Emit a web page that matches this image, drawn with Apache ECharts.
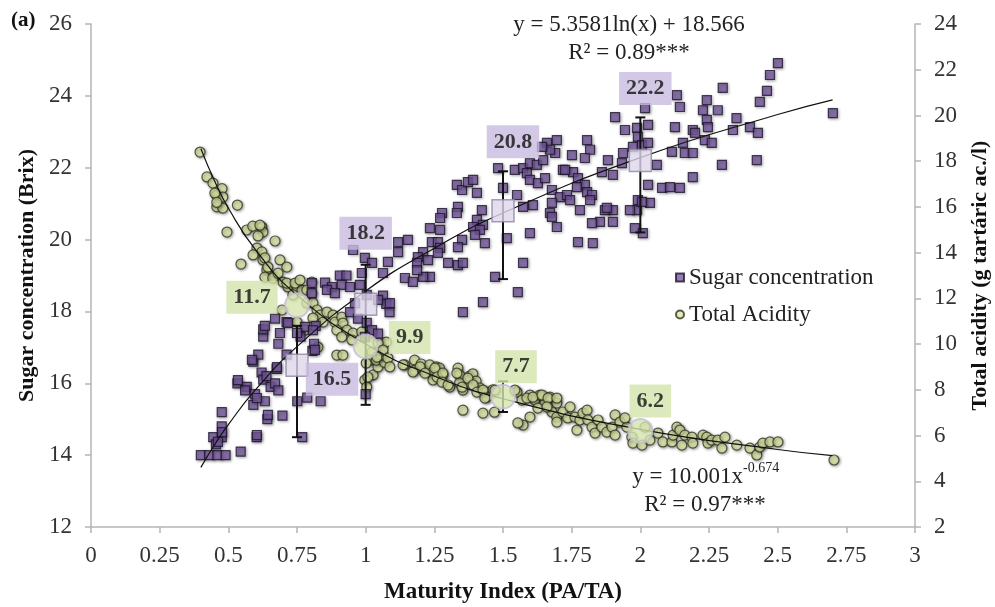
<!DOCTYPE html>
<html>
<head>
<meta charset="utf-8">
<title>Sugar and acidity vs maturity index</title>
<script src="https://cdn.jsdelivr.net/npm/echarts@6/dist/echarts.min.js"></script>
<style>
  html, body { margin: 0; padding: 0; background: #fff; }
  #chart { width: 995px; height: 607px; }
</style>
</head>
<body>
<div id="chart"></div>
<script>
// valores

// azucar (Brix) por punto: [indice de madurez, brix]
const sugarPoints = [
  [0.40,14.0],[0.43,14.0],[0.46,14.0],[0.49,14.0],[0.545,14.1],[0.445,14.5],[0.476,14.5],[0.455,14.3],
  [0.476,14.8],[0.476,15.2],[0.603,14.5],[0.642,15.0],[0.697,15.1],[0.533,16.0],[0.567,15.9],[0.561,15.8],
  [0.591,15.4],[0.597,15.7],[0.591,16.6],[0.609,16.8],[0.621,16.3],[0.627,16.1],[0.639,16.2],[0.654,15.9],
  [0.670,16.0],[0.682,15.8],[0.633,15.5],[0.676,16.4],[0.682,17.1],[0.712,16.8],[0.627,17.3],[0.627,17.5],
  [0.633,17.6],[0.688,17.4],[0.712,17.7],[0.670,17.8],[0.751,15.5],[0.769,14.5],[0.836,15.5],[0.787,15.6],
  [0.763,17.3],[0.806,16.9],[0.812,17.1],[0.818,17.6],[1.0,15.7],[0.954,19.71],[0.997,19.49],[1.023,19.35],
  [0.906,19.0],[0.93,19.0],[0.986,19.07],[0.852,18.8],[0.877,18.68],[0.913,18.74],[0.943,18.68],[0.859,18.6],
  [0.888,18.51],[0.804,18.79],[0.804,18.51],[0.979,18.74],[1.004,18.46],[0.961,18.23],[0.943,17.98],[0.972,17.8],
  [1.004,17.68],[1.023,17.48],[0.997,17.29],[0.717,17.68],[0.779,17.57],[0.808,17.48],[0.75,17.4],[0.815,16.93],
  [0.586,16.65],[0.677,16.45],[0.535,16.09],[0.604,15.59],[0.644,15.12],[0.477,14.64],[0.462,14.37],[0.604,14.56],
  [1.045,17.38],[1.063,18.44],[1.075,18.21],[1.087,17.98],
  [1.482,21.99],[1.50,21.44],[1.543,21.94],[1.573,21.99],[1.587,21.85],[1.598,22.13],[1.623,22.08],[1.646,22.21],
  [1.66,22.69],[1.696,22.77],[1.69,22.41],[1.671,22.5],[1.642,22.58],[1.598,21.66],[1.627,21.57],[1.653,21.71],
  [1.678,21.38],[1.718,21.94],[1.707,21.18],[1.678,21.02],[1.671,20.74],[1.696,20.35],[1.609,20.96],[1.573,20.91],
  [1.551,21.24],[1.598,20.18],[1.514,20.04],[1.573,19.35],[1.471,18.96],[1.554,18.54],[1.427,18.26],[1.354,17.98],
  [1.423,20.82],[1.405,20.55],[1.427,20.41],[1.391,20.35],[1.434,19.9],[1.416,20.27],[1.398,20.13],[1.351,19.99],
  [1.336,19.79],[1.332,21.52],[1.351,21.38],[1.372,21.6],[1.391,21.66],[1.405,21.3],[1.336,20.91],[1.332,20.74],
  [1.278,20.74],[1.271,20.6],[1.234,20.32],[1.271,20.27],[1.241,19.93],[1.263,19.93],[1.271,19.77],[1.30,19.35],
  [1.336,19.29],[1.354,19.35],[1.263,19.63],[1.209,19.65],[1.19,19.51],[1.227,19.43],[1.187,19.35],[1.234,18.96],
  [1.209,18.96],[1.187,19.15],[1.143,18.93],[1.172,18.82],[1.118,19.93],[1.118,19.65],[1.154,19.99],[1.081,19.38],
  [1.063,19.07],[1.045,18.32],[1.088,18.23],
  [2.017,23.66],[2.133,24.02],[2.144,23.69],[1.908,23.41],[1.944,23.05],[1.988,23.11],[2.028,23.19],[1.991,22.86],
  [2.126,23.13],[2.191,23.05],[2.228,23.6],[2.242,23.88],[2.282,23.6],[2.242,23.33],[2.30,24.22],[2.35,23.38],
  [2.337,23.05],[1.973,22.58],[2.006,22.63],[2.028,22.69],[1.937,22.41],[1.882,22.21],[1.86,21.88],[1.90,21.8],
  [1.933,22.13],[2.06,22.08],[2.115,22.44],[2.155,22.69],[2.162,22.41],[2.191,22.41],[2.199,22.97],[2.235,22.77],
  [2.26,22.69],[2.297,22.08],[2.191,21.74],[2.028,21.52],[2.079,21.44],[2.108,21.46],[2.144,21.44],[2.035,21.02],
  [1.991,21.1],[1.988,20.82],[1.962,20.82],[1.90,20.82],[1.871,20.82],[1.90,20.49],[1.853,20.49],[1.824,20.46],
  [1.78,20.82],[1.98,20.32],[2.009,20.18],[1.773,19.93],[1.827,19.9],[1.806,22.77],[1.817,22.5],[1.751,22.35],
  [1.798,22.27],[1.755,21.88],[1.726,21.94],[1.773,21.71],[1.798,21.52],[1.806,21.32],[1.824,21.24],[1.817,21.1],
  [1.769,21.46],[1.733,21.24],[2.501,24.91],[2.472,24.58],[2.461,24.14],[2.435,23.83],[2.399,23.13],[2.428,22.97],
  [2.701,23.52],[2.424,22.21],[2.246,23.13],[1.678,20.63],[1.744,21.1],[1.878,20.88],[2.006,21.05]
];

// acidez total (g/l) por punto: [indice de madurez, acidez]
const acidPoints = [
  [0.397,18.4],[0.422,17.31],[0.444,17.04],[0.458,16.52],[0.477,16.8],[0.48,16.43],[0.458,16.0],[0.48,15.95],
  [0.533,16.08],[0.495,14.9],[0.567,14.99],[0.589,15.16],[0.622,15.12],[0.626,14.9],[0.608,14.73],[0.67,14.51],
  [0.604,14.2],[0.622,14.03],[0.59,13.9],[0.546,13.5],[0.626,13.68],[0.688,13.68],[0.713,13.37],[0.64,13.24],
  [0.633,12.93],[0.67,12.93],[0.699,12.71],[0.717,12.5],[0.75,12.5],[0.768,12.36],[0.804,12.71],[0.451,16.6],
  [0.458,16.2],[0.615,15.2],[0.633,13.77],[0.644,13.37],[0.662,12.89],[0.681,13.1],[0.713,12.67],[0.743,12.67],
  [0.761,12.8],[0.735,12.15],[0.695,11.49],[0.786,12.36],[0.804,12.23],[0.786,11.8],[0.808,11.8],[0.823,11.49],
  [0.834,11.27],[0.859,11.4],[0.808,11.14],[0.845,10.96],[0.881,11.27],[0.888,10.96],[0.913,11.18],[0.917,10.92],
  [0.932,10.61],[0.954,10.48],[0.895,10.61],[0.913,10.31],[0.95,10.18],[0.986,10.53],[1.023,10.48],[0.75,10.96],
  [0.779,10.61],[0.826,9.87],[0.895,9.52],[0.917,9.52],[1.023,9.65],[1.016,9.3],[1.027,8.65],[0.997,8.43],
  [1.004,8.12],[1.002,9.17],[1.008,8.56],[1.045,9.0],[1.039,9.3],[1.069,9.2],[1.075,10.09],[1.057,9.52],
  [1.142,9.09],[1.178,9.3],[1.178,8.86],[1.202,9.13],[1.214,8.86],[1.233,9.09],[1.245,8.78],[1.257,9.0],
  [1.269,8.95],[1.281,8.65],[1.245,8.43],[1.306,8.12],[1.336,8.95],[1.342,8.65],[1.342,8.3],[1.354,7.99],
  [1.354,7.11],[1.378,8.6],[1.39,8.7],[1.402,8.38],[1.415,8.08],[1.427,6.98],[1.469,7.02],[1.439,7.9],
  [1.463,8.0],[1.045,10.05],[1.063,9.74],[1.041,9.43],[1.081,9.39],[1.088,9.0],[1.136,9.09],[1.198,9.0],
  [1.172,8.78],[1.216,8.73],[1.252,8.95],[1.26,8.56],[1.281,8.73],[1.278,8.34],[1.30,8.21],[1.332,8.73],
  [1.351,8.12],[1.372,8.51],[1.391,8.21],[1.405,7.9],[1.441,7.68],[1.551,7.9],[1.569,7.55],[1.598,7.77],
  [1.616,7.55],[1.634,7.77],[1.653,7.42],[1.671,7.68],[1.696,7.42],[1.627,7.2],[1.598,6.81],[1.573,6.46],
  [1.678,7.03],[1.427,7.99],[1.434,7.64],[1.471,7.99],[1.543,7.99],[1.587,7.64],[1.554,6.55],[1.609,7.68],
  [1.642,7.77],[1.664,7.64],[1.696,7.64],[1.66,7.25],[1.696,6.81],[1.696,6.59],[1.718,7.03],[1.744,7.25],
  [1.736,6.77],[1.762,6.81],[1.769,6.24],[1.78,6.68],[1.791,6.98],[1.806,7.11],[1.809,6.68],[1.824,6.37],
  [1.835,6.11],[1.846,6.68],[1.86,6.37],[1.878,6.15],[1.897,6.37],[1.908,6.9],[1.908,6.02],[1.926,6.59],
  [1.951,6.37],[1.944,6.77],[1.969,5.93],[1.973,5.67],[2.006,5.58],[2.035,5.8],[2.064,6.11],[2.082,5.72],
  [2.115,5.72],[2.119,6.02],[2.133,6.37],[2.144,6.24],[2.151,5.58],[2.162,6.02],[2.188,5.93],[2.191,5.67],
  [2.228,6.02],[2.242,5.93],[2.246,5.67],[2.26,5.8],[2.282,5.8],[2.297,5.45],[2.308,5.93],[2.351,5.58],
  [2.399,5.45],[2.424,5.15],[2.435,5.5],[2.446,5.67],[2.472,5.72],[2.501,5.72],[2.705,4.93],[2.017,6.37]
];

// medias por etapa
const meanX = [0.75, 1, 1.5, 2];
const sugarMeans = [16.5, 18.2, 20.8, 22.2];
const acidMeans = [11.7, 9.9, 7.7, 6.2];

// barras de error: [x, minimo, maximo]
const sugarErrors = [[0.75, 14.5, 17.6], [1, 15.4, 19.3], [1.5, 18.9, 21.9], [2, 20.2, 23.4]];
const acidErrors = [[1.5, 7.03, 8.37]];

// lineas de tendencia (leidas sobre la curva dibujada)
const trendX = [0.4, 0.45, 0.5, 0.6, 0.75, 1, 1.25, 1.5, 2, 2.5, 2.7];
const sugarTrend = [13.66, 14.29, 14.85, 15.83, 17.02, 18.57, 19.76, 20.74, 22.28, 23.48, 23.89];
const acidTrend = [18.54, 17.13, 15.95, 14.11, 12.14, 10.0, 8.60, 7.61, 6.27, 5.39, 5.12];

// ejes
const xTicks = { min: 0, max: 3, interval: 0.25 };
const sugarTicks = { min: 12, max: 26, interval: 2 };
const acidTicks = { min: 2, max: 24, interval: 2 };

const serif = '"Liberation Serif", "DejaVu Serif", serif';
const axisGrey = '#b5b5b5';

const sugarLabelOffset = [[35, 14], [0, -71], [10, -69], [5, -72]];
const acidLabelOffset = [[-45, -8], [44, -9], [13, -30], [10, -30]];

function meanItems(means, offsets, bg) {
  return means.map((m, i) => ({
    value: [meanX[i], m],
    label: {
      show: true,
      position: 'inside',
      offset: offsets[i],
      formatter: m.toFixed(1),
      backgroundColor: bg,
      padding: [6, 7, 5, 7],
      color: '#111',
      fontFamily: serif,
      fontWeight: 'bold',
      fontSize: 22
    }
  }));
}

function renderErrorBar(params, api) {
  const x = api.value(0);
  const lo = api.coord([x, api.value(1)]);
  const hi = api.coord([x, api.value(2)]);
  const cap = 5;
  const style = { stroke: '#111', lineWidth: 2 };
  return {
    type: 'group',
    children: [
      { type: 'line', shape: { x1: lo[0], y1: lo[1], x2: hi[0], y2: hi[1] }, style },
      { type: 'line', shape: { x1: lo[0] - cap, y1: lo[1], x2: lo[0] + cap, y2: lo[1] }, style },
      { type: 'line', shape: { x1: hi[0] - cap, y1: hi[1], x2: hi[0] + cap, y2: hi[1] }, style }
    ]
  };
}

function yAxis(ticks, name, gap, pos) {
  return {
    type: 'value',
    position: pos,
    min: ticks.min,
    max: ticks.max,
    interval: ticks.interval,
    name: name,
    nameLocation: 'middle',
    nameGap: gap,
    nameTextStyle: { fontFamily: serif, fontWeight: 'bold', fontSize: 22, color: '#111' },
    axisLine: { show: true, lineStyle: { color: axisGrey, width: 1.5 } },
    axisTick: { show: true, length: 6, lineStyle: { color: axisGrey, width: 1.5 } },
    axisLabel: { fontFamily: serif, fontSize: 23, color: '#333', margin: 19 },
    splitLine: { show: false }
  };
}

const eqFont = '23px ' + serif;

const chart = echarts.init(document.getElementById('chart'));

chart.setOption({
  backgroundColor: '#fff',
  animation: false,
  grid: { left: 91, right: 80, top: 24, bottom: 80, outerBoundsMode: 'none', containLabel: false },
  legend: {
    orient: 'vertical',
    left: 670,
    top: 261,
    itemGap: 14,
    itemWidth: 8,
    itemHeight: 8,
    data: [
      { name: 'Sugar concentration', icon: 'rect' },
      { name: 'Total Acidity', icon: 'circle' }
    ],
    textStyle: { fontFamily: serif, fontSize: 23, color: '#222' }
  },
  xAxis: {
    type: 'value',
    min: xTicks.min,
    max: xTicks.max,
    interval: xTicks.interval,
    name: 'Maturity Index (PA/TA)',
    nameLocation: 'middle',
    nameGap: 54,
    nameTextStyle: { fontFamily: serif, fontWeight: 'bold', fontSize: 23, color: '#111' },
    axisLine: { show: true, lineStyle: { color: axisGrey, width: 1.5 } },
    axisTick: { show: true, length: 6, lineStyle: { color: axisGrey, width: 1.5 } },
    axisLabel: { fontFamily: serif, fontSize: 23, color: '#333', margin: 17 },
    splitLine: { show: false }
  },
  yAxis: [
    yAxis(sugarTicks, 'Sugar concentration (Brix)', 49, 'left'),
    yAxis(acidTicks, 'Total acidity (g tartáric ac./l)', 54, 'right')
  ],
  graphic: [
    {
      type: 'text', x: 11, y: 21,
      style: { text: '(a)', font: 'bold 21px ' + serif, fill: '#111', verticalAlign: 'middle' }
    },
    {
      type: 'text', x: 629, y: 25,
      style: { text: 'y = 5.3581ln(x) + 18.566', font: eqFont, fill: '#222', align: 'center', verticalAlign: 'middle' }
    },
    {
      type: 'text', x: 629, y: 53,
      style: { text: 'R² = 0.89***', font: eqFont, fill: '#222', align: 'center', verticalAlign: 'middle' }
    },
    {
      type: 'text', x: 743, y: 477,
      style: { text: 'y = 10.001x', font: eqFont, fill: '#222', align: 'right', verticalAlign: 'middle' }
    },
    {
      type: 'text', x: 743, y: 468,
      style: { text: '-0.674', font: '14px ' + serif, fill: '#222', align: 'left', verticalAlign: 'middle' }
    },
    {
      type: 'text', x: 705, y: 505,
      style: { text: 'R² = 0.97***', font: eqFont, fill: '#222', align: 'center', verticalAlign: 'middle' }
    }
  ],
  series: [
    {
      name: 'Total Acidity',
      type: 'scatter',
      yAxisIndex: 1,
      symbol: 'circle',
      symbolSize: 10,
      data: acidPoints,
      itemStyle: {
        color: '#dde8a6', borderColor: '#2e3320', borderWidth: 1.2,
        shadowBlur: 3, shadowColor: 'rgba(0,0,0,0.45)', shadowOffsetX: 1, shadowOffsetY: 1
      },
      z: 2
    },
    {
      name: 'Sugar concentration',
      type: 'scatter',
      yAxisIndex: 0,
      symbol: 'rect',
      symbolSize: 9,
      data: sugarPoints,
      itemStyle: {
        color: '#7a5ca3', borderColor: '#1e1630', borderWidth: 1.2,
        shadowBlur: 3, shadowColor: 'rgba(0,0,0,0.45)', shadowOffsetX: 1, shadowOffsetY: 1
      },
      z: 3
    },
    {
      type: 'line',
      yAxisIndex: 0,
      smooth: true,
      symbol: 'none',
      data: trendX.map((x, i) => [x, sugarTrend[i]]),
      lineStyle: { color: '#111', width: 1.2 },
      z: 4
    },
    {
      type: 'line',
      yAxisIndex: 1,
      smooth: true,
      symbol: 'none',
      data: trendX.map((x, i) => [x, acidTrend[i]]),
      lineStyle: { color: '#111', width: 1.2 },
      z: 4
    },
    {
      type: 'custom',
      yAxisIndex: 0,
      renderItem: renderErrorBar,
      encode: { x: 0, y: [1, 2] },
      data: sugarErrors,
      z: 5
    },
    {
      type: 'custom',
      yAxisIndex: 1,
      renderItem: renderErrorBar,
      encode: { x: 0, y: [1, 2] },
      data: acidErrors,
      z: 5
    },
    {
      type: 'scatter',
      yAxisIndex: 0,
      symbol: 'rect',
      symbolSize: 22,
      data: meanItems(sugarMeans, sugarLabelOffset, '#c8bce0'),
      itemStyle: { color: '#ddd6ea', borderColor: '#8e84a6', borderWidth: 1.5 },
      z: 6
    },
    {
      type: 'scatter',
      yAxisIndex: 1,
      symbol: 'circle',
      symbolSize: 24,
      data: meanItems(acidMeans, acidLabelOffset, '#d3e3ad'),
      itemStyle: { color: '#d6e5ae', borderColor: '#c4bcd9', borderWidth: 2 },
      z: 6
    }
  ]
});
</script>
</body>
</html>
